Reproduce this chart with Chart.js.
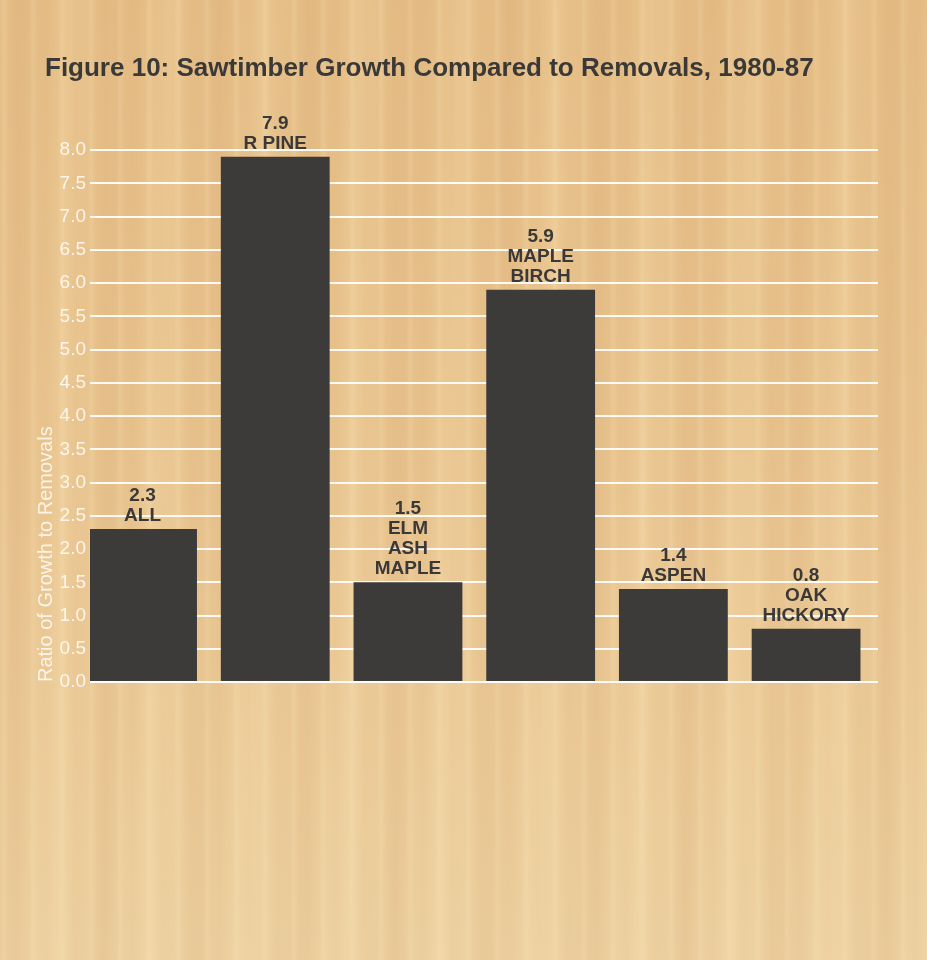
<!DOCTYPE html>
<html>
<head>
<meta charset="utf-8">
<title>Sawtimber Growth Compared to Removals</title>
<script src="https://cdn.jsdelivr.net/npm/chart.js@4/dist/chart.umd.min.js"></script>
<style>
  html, body { margin: 0; padding: 0; }
  body {
    width: 927px; height: 960px; overflow: hidden;
    background-color: #ebc993;
    background-image:
      repeating-linear-gradient(90deg, rgba(255,240,200,0.00) 0px, rgba(255,240,200,0.16) 4px, rgba(255,240,200,0.00) 9px, rgba(200,150,100,0.06) 17px, rgba(255,240,200,0.00) 29px),
      repeating-linear-gradient(91deg, rgba(210,160,110,0.00) 0px, rgba(210,160,110,0.12) 23px, rgba(210,160,110,0.00) 47px, rgba(255,235,190,0.18) 71px, rgba(210,160,110,0.00) 97px),
      linear-gradient(to bottom, #e5bd85 0%, #e8c38d 45%, #edd0a0 100%);
  }
  #wrap { position: relative; width: 927px; height: 960px; }
</style>
</head>
<body>
<div id="wrap"><canvas id="chart"></canvas></div>
<script>
// Ratio of sawtimber growth to removals by forest type, 1980-87
const forestTypes = [["ALL"], ["R PINE"], ["ELM", "ASH", "MAPLE"], ["MAPLE", "BIRCH"], ["ASPEN"], ["OAK", "HICKORY"]];
const growthToRemovals = [2.3, 7.9, 1.5, 5.9, 1.4, 0.8];
const yTicks = [0, 0.5, 1, 1.5, 2, 2.5, 3, 3.5, 4, 4.5, 5, 5.5, 6, 6.5, 7, 7.5, 8];

const FONT = "'Liberation Sans', Arial, Helvetica, sans-serif";
const INK = '#3a3938';

// Value and forest-type name stacked above each bar
const barLabels = {
  id: 'barLabels',
  afterDatasetsDraw(chart) {
    const ctx = chart.ctx;
    const meta = chart.getDatasetMeta(0);
    ctx.save();
    ctx.font = 'bold 19px ' + FONT;
    ctx.fillStyle = INK;
    ctx.textAlign = 'center';
    ctx.textBaseline = 'alphabetic';
    meta.data.forEach((bar, i) => {
      const lines = [growthToRemovals[i].toFixed(1)].concat(forestTypes[i]);
      let y = bar.y - 8;
      for (let k = lines.length - 1; k >= 0; k--) {
        ctx.fillText(lines[k], bar.x, y);
        y -= 20;
      }
    });
    ctx.restore();
  }
};

new Chart(document.getElementById('chart'), {
  type: 'bar',
  data: {
    datasets: [{
      data: growthToRemovals.map((v, i) => ({ x: i, y: v })),
      backgroundColor: '#3d3b3a',
      borderWidth: 0,
      categoryPercentage: 1,
      barPercentage: 0.82
    }]
  },
  options: {
    responsive: true,
    maintainAspectRatio: false,
    animation: false,
    layout: { padding: { top: 0, left: 45, right: 49, bottom: 278 } },
    plugins: {
      legend: { display: false },
      tooltip: { enabled: false },
      title: {
        display: true,
        text: 'Figure 10: Sawtimber Growth Compared to Removals, 1980-87',
        align: 'start',
        color: INK,
        font: { family: FONT, size: 26, weight: 'bold', lineHeight: 1.2 },
        padding: { top: 53, bottom: 66 }
      }
    },
    scales: {
      x: {
        type: 'linear',
        display: false,
        offset: false,
        min: -0.396,
        max: 5.542,
        // one tick per forest type so bar widths follow the category spacing
        afterBuildTicks(scale) { scale.ticks = growthToRemovals.map((v, i) => ({ value: i })); }
      },
      y: {
        min: 0,
        max: 8,
        afterBuildTicks(scale) { scale.ticks = yTicks.map(v => ({ value: v })); },
        afterFit(scale) { scale.width = 45; },
        border: { display: false },
        grid: { color: 'rgba(255,255,255,0.92)', lineWidth: 2, drawTicks: false },
        ticks: {
          color: 'rgba(255,255,255,0.82)',
          padding: 4,
          font: { family: FONT, size: 19 },
          callback: v => Number(v).toFixed(1)
        },
        title: {
          display: true,
          text: 'Ratio of Growth to Removals',
          align: 'start',
          color: 'rgba(255,255,255,0.8)',
          font: { family: FONT, size: 20, lineHeight: 1.2 },
          padding: { top: -11, bottom: 0 }
        }
      }
    }
  },
  plugins: [barLabels]
});
</script>
</body>
</html>
